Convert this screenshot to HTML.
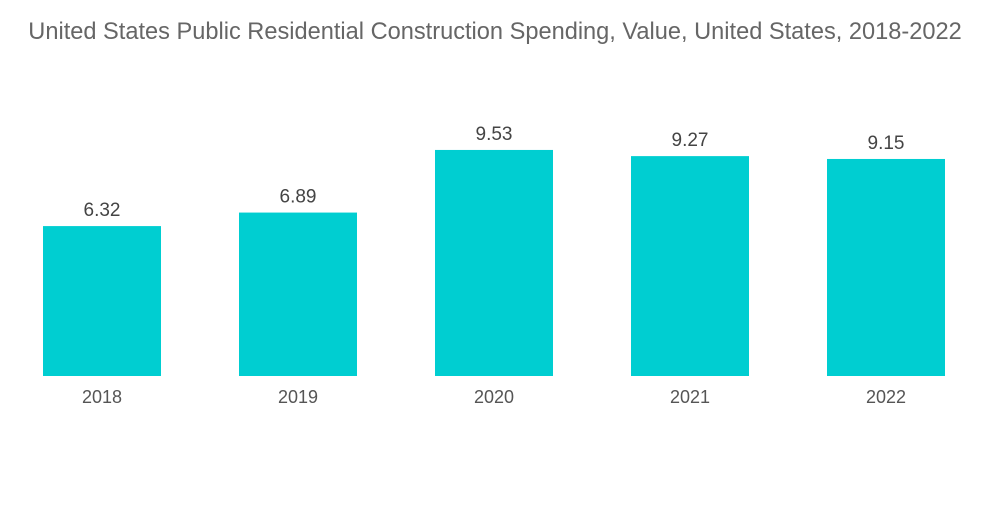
<!DOCTYPE html>
<html>
<head>
<meta charset="utf-8">
<style>
html,body{margin:0;padding:0;background:#fff;}
body{width:1000px;height:504px;overflow:hidden;font-family:"Liberation Sans",sans-serif;}
</style>
</head>
<body>
<svg width="1000" height="504" viewBox="0 0 1000 504">
<text x="495" y="39" text-anchor="middle" font-size="23.6" fill="#666" font-family="Liberation Sans, sans-serif">United States Public Residential Construction Spending, Value, United States, 2018-2022</text>
<g id="bars"></g>
</svg>
<script>
const categories = ["2018","2019","2020","2021","2022"];
const values = [6.32, 6.89, 9.53, 9.27, 9.15];
const valueLabels = ["6.32","6.89","9.53","9.27","9.15"];

const baseY = 376, pxPerUnit = 23.72;
const x0 = 43, step = 196, barW = 118;
function xPos(i){ return x0 + i*step; }
function yPos(v){ return baseY - v*pxPerUnit; }

const ns = "http://www.w3.org/2000/svg";
const g = document.getElementById('bars');
categories.forEach((c,i)=>{
  const v = values[i];
  const r = document.createElementNS(ns,'rect');
  r.setAttribute('x', xPos(i));
  r.setAttribute('y', yPos(v));
  r.setAttribute('width', barW);
  r.setAttribute('height', baseY - yPos(v));
  r.setAttribute('fill', '#00CED1');
  
  
  g.appendChild(r);

  const t = document.createElementNS(ns,'text');
  t.setAttribute('x', xPos(i) + barW/2);
  t.setAttribute('y', yPos(v) - 10);
  t.setAttribute('text-anchor', 'middle');
  t.setAttribute('font-size', '19');
  t.setAttribute('fill', '#444');
  t.textContent = valueLabels[i];
  
  
  g.appendChild(t);

  const a = document.createElementNS(ns,'text');
  a.setAttribute('x', xPos(i) + barW/2);
  a.setAttribute('y', 403);
  a.setAttribute('text-anchor', 'middle');
  a.setAttribute('font-size', '18');
  a.setAttribute('fill', '#555');
  a.textContent = c;
  
  
  g.appendChild(a);
});
</script>
</body>
</html>
